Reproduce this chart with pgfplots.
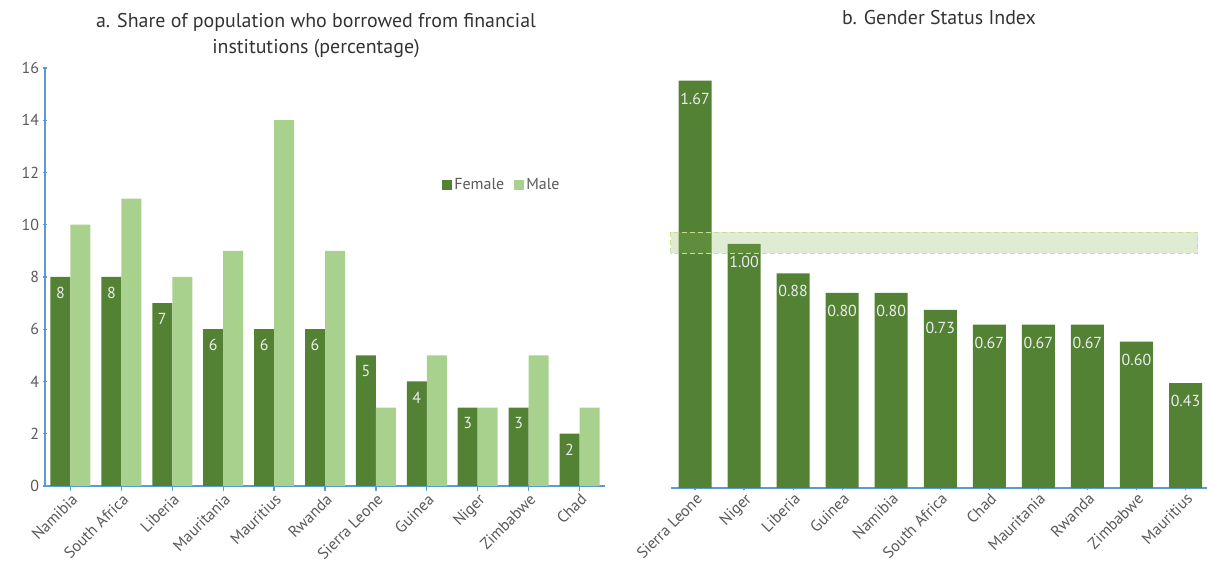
\documentclass[border=0pt]{standalone}
\usepackage{fontspec}
\setmainfont{PT Sans}
\usepackage{pgfplots}
\pgfplotsset{compat=1.18}
\definecolor{fem}{HTML}{548235}
\definecolor{mal}{HTML}{A9D18E}
\definecolor{axl}{HTML}{5B9BD5}
\definecolor{txt}{HTML}{595959}
\definecolor{ttl}{HTML}{333333}
\definecolor{bandc}{HTML}{80AF50}
\definecolor{bandl}{HTML}{C9DF96}
\definecolor{lbl}{HTML}{ECECEC}
\newcommand{\tf}{\fontsize{16}{18}\selectfont}
\begin{document}
\begin{tikzpicture}[x=1bp,y=1bp]
\useasboundingbox (0,0) rectangle (1207,568);
\pgfplotsset{
  mystyle/.style={
    scale only axis, anchor=south west,
    xmin=-0.5, xmax=10.5, ymin=0,
    xtick={0,...,10},
    /pgf/number format/assume math mode=true,
    x tick label style={rotate=45, anchor=north east, inner sep=1bp, font=\tf, text=txt},
    y tick label style={font=\tf, text=txt},
    tick style={axl, line width=1.2bp}, tick align=outside, major tick length=5bp,
    clip=false,
  }
}
% Panel a
\begin{axis}[mystyle,
  at={(45bp,82bp)}, width=560bp, height=418bp,
  ymax=16, ytick={0,2,...,16},
  axis x line=bottom, axis y line=left,
  axis line style={-, axl, line width=1.6bp},
  xticklabels={Namibia,South Africa,Liberia,Mauritania,Mauritius,Rwanda,Sierra Leone,Guinea,Niger,Zimbabwe,Chad},
  ybar=0bp, bar width=20bp,
  legend style={at={(0.816,0.72)}, anchor=center, draw=none, fill=none, legend columns=2,
    font=\tf, text=txt, /tikz/every even column/.append style={column sep=8bp}},
  legend image code/.code={\fill[#1,draw=none] (0bp,-5bp) rectangle (10bp,5bp);},
]
\addplot[fill=fem, draw=none, nodes near coords,
  every node near coord/.append style={anchor=north, inner sep=2bp, yshift=-8bp, font=\tf, text=lbl}]
  coordinates {(0,8) (1,8) (2,7) (3,6) (4,6) (5,6) (6,5) (7,4) (8,3) (9,3) (10,2)};
\addlegendentry{Female}
\addplot[fill=mal, draw=none]
  coordinates {(0,10) (1,11) (2,8) (3,9) (4,14) (5,9) (6,3) (7,5) (8,3) (9,5) (10,3)};
\addlegendentry{Male}
\end{axis}
% Panel b
\begin{axis}[mystyle,
  at={(670.5bp,80bp)}, width=539.5bp, height=439.2bp,
  ymax=1.8,
  axis x line=bottom, axis y line=none,
  axis line style={-, axl, line width=1.6bp},
  xticklabels={Sierra Leone,Niger,Liberia,Guinea,Namibia,South Africa,Chad,Mauritania,Rwanda,Zimbabwe,Mauritius},
]
\addplot[ybar, bar width=33bp, fill=fem, draw=none, nodes near coords={\pgfmathprintnumber[fixed,fixed zerofill,precision=2,assume math mode=true]{\pgfplotspointmeta}},
  every node near coord/.append style={anchor=north, inner sep=2bp, yshift=-10bp, font=\tf, text=lbl}]
  coordinates {(0,1.67) (1,1.00) (2,0.88) (3,0.80) (4,0.80) (5,0.73) (6,0.67) (7,0.67) (8,0.67) (9,0.60) (10,0.43)};
\fill[bandc, opacity=0.25] (axis cs:-0.5,0.963) rectangle (axis cs:10.25,1.049);
\draw[bandl, line width=1bp, dash pattern=on 5bp off 3bp] (axis cs:-0.5,0.963) rectangle (axis cs:10.25,1.049);
\end{axis}
% Titles
\node[font=\fontsize{20}{26}\selectfont, text=ttl, align=center] at (316,532) {a. Share of population who borrowed from financial\\institutions (percentage)};
\node[font=\fontsize{20}{22}\selectfont, text=ttl] at (939,550) {b. Gender Status Index};
\end{tikzpicture}
\end{document}
